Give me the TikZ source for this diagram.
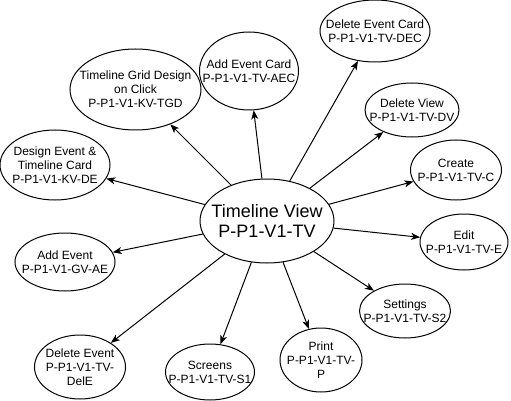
\documentclass[tikz,border=0pt]{standalone}
\usepackage{fontspec}
\setmainfont{Liberation Sans}
\usetikzlibrary{arrows.meta,shapes.geometric}
\tikzset{
  bub/.style={ellipse, draw=black, line width=1pt, inner xsep=-30pt, inner ysep=-15pt,
              align=center, font=\fontsize{12}{14}\selectfont},
  hub/.style={bub, font=\fontsize{18}{20}\selectfont},
  linkarr/.style={-{Stealth[length=9pt,width=7pt,inset=2.5pt]}, line width=1pt},
}

\begin{document}
\begin{tikzpicture}[x=1pt,y=-1pt]
    \useasboundingbox (0,0) rectangle (511,401);
    % centre
    \node[hub, minimum width=134pt, minimum height=84pt] (tv) at (267,221) {Timeline View\\P-P1-V1-TV};
    % ring
    \node[bub, minimum width=131pt, minimum height=81pt] (tgd) at (135.5,89.5) {Timeline Grid Design\\on Click\\P-P1-V1-KV-TGD};
    \node[bub, minimum width=99pt, minimum height=78pt] (aec) at (249,71) {Add Event Card\\P-P1-V1-TV-AEC};
    \node[bub, minimum width=110pt, minimum height=62pt] (dec) at (375,31) {Delete Event Card\\P-P1-V1-TV-DEC};
    \node[bub, minimum width=94pt, minimum height=54pt] (dv) at (412,110) {Delete View\\P-P1-V1-TV-DV};
    \node[bub, minimum width=91pt, minimum height=60pt] (cre) at (456,170) {Create\\P-P1-V1-TV-C};
    \node[bub, minimum width=88pt, minimum height=56pt] (edit) at (464,242) {Edit\\P-P1-V1-TV-E};
    \node[bub, minimum width=91pt, minimum height=54pt] (set) at (405,311) {Settings\\P-P1-V1-TV-S2};
    \node[bub, minimum width=82pt, minimum height=64pt] (print) at (321,360) {Print\\P-P1-V1-TV-\\P};
    \node[bub, minimum width=89pt, minimum height=56pt] (scr) at (210,372) {Screens\\P-P1-V1-TV-S1};
    \node[bub, minimum width=91pt, minimum height=64pt] (dele) at (80,367) {Delete Event\\P-P1-V1-TV-\\DelE};
    \node[bub, minimum width=100pt, minimum height=58pt] (ae) at (65,262) {Add Event\\P-P1-V1-GV-AE};
    \node[bub, minimum width=110pt, minimum height=70pt] (de) at (55,165) {Design Event \&\\Timeline Card\\P-P1-V1-KV-DE};
    % links
    \foreach \t in {tgd,aec,dec,dv,cre,edit,set,print,scr,dele,ae,de}
      \draw[linkarr] (tv) -- (\t);
\end{tikzpicture}
\end{document}
